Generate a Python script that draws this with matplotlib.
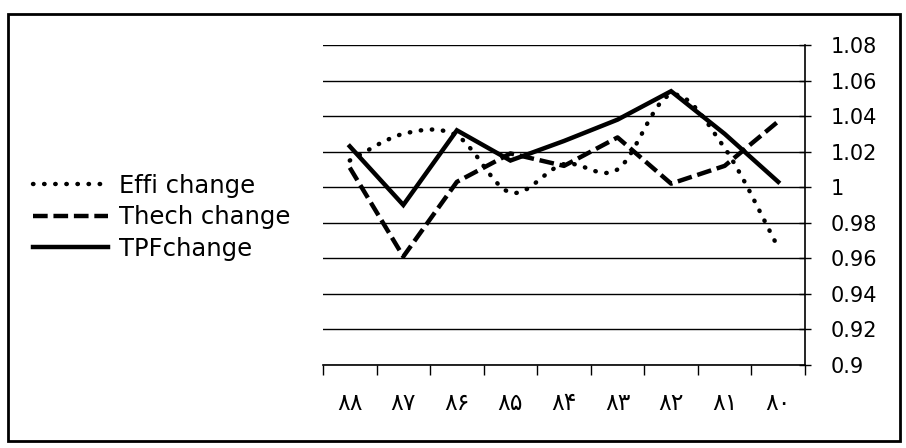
import matplotlib
matplotlib.use('Agg')
import matplotlib.pyplot as plt
import numpy as np
from matplotlib.path import Path
from matplotlib.patches import PathPatch, Rectangle
from matplotlib.lines import Line2D

plt.rcParams['font.family'] = ['DejaVu Sans']

# 데이터
years = ['۸۸', '۸۷', '۸۶', '۸۵', '۸۴', '۸۳', '۸۲', '۸۱', '۸۰']
effi = [1.015, 1.030, 1.029, 0.997, 1.013, 1.010, 1.052, 1.022, 0.966]
thech = [1.011, 0.961, 1.003, 1.019, 1.012, 1.028, 1.002, 1.012, 1.037]
tpf = [1.023, 0.990, 1.032, 1.015, 1.026, 1.038, 1.054, 1.030, 1.003]
labels = ['Effi change', 'Thech change', 'TPFchange']

def smooth_path(xs, ys):
    # Catmull-Rom 방식의 베지어 곡선 (엑셀 smooth line 흉내)
    pts = np.column_stack([xs, ys])
    n = len(pts)
    verts = [pts[0]]
    codes = [Path.MOVETO]
    for i in range(n - 1):
        p0 = pts[max(i - 1, 0)]
        p1 = pts[i]
        p2 = pts[i + 1]
        p3 = pts[min(i + 2, n - 1)]
        c1 = p1 + (p2 - p0) / 6
        c2 = p2 - (p3 - p1) / 6
        verts += [c1, c2, p2]
        codes += [Path.CURVE4] * 3
    return Path(verts, codes)

fig = plt.figure(figsize=(9.06, 4.48), dpi=100)
fig.set_facecolor('white')
ax = fig.add_axes([0.3565, 0.1853, 0.532, 0.7143])

x = np.arange(len(years)) + 0.5

lw = 3.2
dot_style = (0, (0.1, 2.4))
dash_style = (0, (3.3, 1.3))

ax.add_patch(PathPatch(smooth_path(x, effi), fill=False, lw=lw, color='black',
                       linestyle=dot_style, capstyle='round', zorder=3))
ax.plot(x, thech, color='black', lw=lw, linestyle=dash_style, zorder=3)
ax.plot(x, tpf, color='black', lw=lw, solid_joinstyle='miter', zorder=4)

ax.set_xlim(0, len(years))
ax.set_ylim(0.9, 1.08)
ax.set_yticks(np.arange(0.9, 1.0801, 0.02))
ax.set_yticklabels(['0.9', '0.92', '0.94', '0.96', '0.98', '1', '1.02', '1.04', '1.06', '1.08'])
ax.yaxis.tick_right()
ax.grid(axis='y', color='black', lw=1.0)
ax.set_axisbelow(True)

ax.set_xticks(np.arange(len(years) + 1))
ax.set_xticklabels([])
ax.set_xticks(x, minor=True)
ax.set_xticklabels(years, minor=True)
ax.tick_params(axis='x', which='minor', length=0, pad=19, labelsize=17)
ax.tick_params(axis='x', which='major', length=7, width=1, direction='out')
ax.tick_params(axis='y', length=9, width=1, direction='inout', labelsize=15, pad=14)

for s in ['left', 'top']:
    ax.spines[s].set_visible(False)
ax.spines['right'].set_linewidth(1.2)
ax.spines['bottom'].set_linewidth(1.2)

handles = [Line2D([], [], color='black', lw=lw, linestyle=dot_style, dash_capstyle='round'),
           Line2D([], [], color='black', lw=lw, linestyle=dash_style),
           Line2D([], [], color='black', lw=lw)]
fig.legend(handles, labels,
           loc='center left', bbox_to_anchor=(0.036, 0.515), frameon=False,
           fontsize=17.5, handlelength=3.1, handletextpad=0.45, labelspacing=0.3,
           borderaxespad=0, borderpad=0)

# 바깥 테두리
fig.patches.append(Rectangle((0.009, 0.016), 0.984, 0.952, transform=fig.transFigure,
                             fill=False, edgecolor='black', lw=2))

fig.savefig('out.png', dpi=100)
